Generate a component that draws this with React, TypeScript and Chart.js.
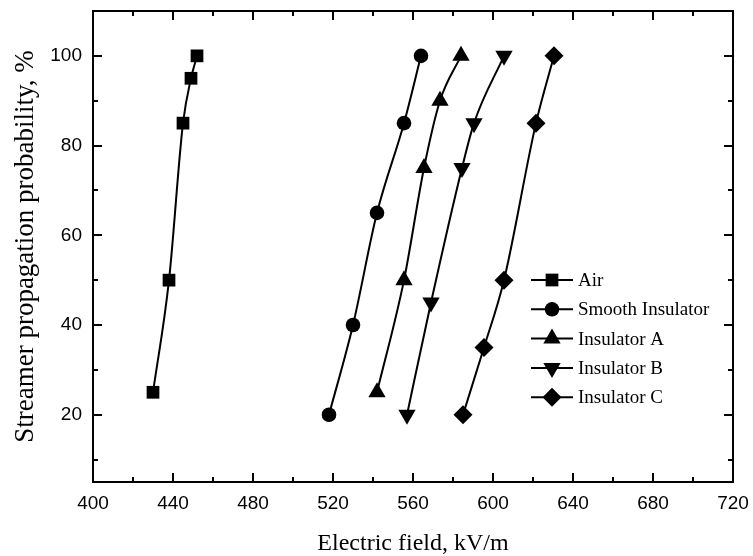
import { useEffect, useRef } from "react";
import { Chart, registerables } from "chart.js";
import { drawPoint } from "chart.js/helpers";

Chart.register(...registerables);

// Streamer propagation probability (%) versus applied electric field (kV/m)
const seriesNames = ["Air", "Smooth Insulator", "Insulator A", "Insulator B", "Insulator C"];

const airField = [430, 438, 445, 449, 452];
const airProb = [25, 50, 85, 95, 100];

const smoothField = [518, 530, 542, 555.5, 564];
const smoothProb = [20, 40, 65, 85, 100];

const insAField = [542, 555.5, 565.5, 573.5, 584];
const insAProb = [25, 50, 75, 90, 100];

const insBField = [557, 569, 584.5, 590.5, 605.5];
const insBProb = [20, 45, 75, 85, 100];

const insCField = [585, 595.5, 605.5, 621.5, 630.5];
const insCProb = [20, 35, 50, 85, 100];

const xMajorTicks = [400, 440, 480, 520, 560, 600, 640, 680, 720];
const xMinorTicks = [420, 460, 500, 540, 580, 620, 660, 700];
const yMajorTicks = [20, 40, 60, 80, 100];
const yMinorTicks = [10, 30, 50, 70, 90];

const fieldSeries = [airField, smoothField, insAField, insBField, insCField];
const probSeries = [airProb, smoothProb, insAProb, insBProb, insCProb];

// marker shape for each curve
const markers = [
  { pointStyle: "rect", radius: 9, rotation: 0 },
  { pointStyle: "circle", radius: 7.3, rotation: 0 },
  { pointStyle: "triangle", radius: 10, rotation: 0 },
  { pointStyle: "triangle", radius: 10, rotation: 180 },
  { pointStyle: "rectRot", radius: 9.5, rotation: 0 },
];

const SERIF = "'Liberation Serif', 'Times New Roman', serif";
const SANS = "'Liberation Sans', Arial, sans-serif";

// Box frame, inward tick marks and the in-plot legend
const framePlugin = {
  id: "frameAndLegend",
  afterDatasetsDraw(chart: any) {
    const { ctx, chartArea: a, scales } = chart;
    const xs = scales.x;
    const ys = scales.y;
    ctx.save();
    ctx.strokeStyle = "#000";
    ctx.lineWidth = 2;
    ctx.lineCap = "butt";

    const tick = (len: number, xv: number[], yv: number[]) => {
      ctx.beginPath();
      for (const v of xv) {
        const px = Math.round(xs.getPixelForValue(v));
        ctx.moveTo(px, a.bottom);
        ctx.lineTo(px, a.bottom - len);
        ctx.moveTo(px, a.top);
        ctx.lineTo(px, a.top + len);
      }
      for (const v of yv) {
        const py = Math.round(ys.getPixelForValue(v));
        ctx.moveTo(a.left, py);
        ctx.lineTo(a.left + len, py);
        ctx.moveTo(a.right, py);
        ctx.lineTo(a.right - len, py);
      }
      ctx.stroke();
    };
    tick(9, xMajorTicks, yMajorTicks);
    tick(5, xMinorTicks, yMinorTicks);

    ctx.strokeRect(a.left, a.top, a.right - a.left, a.bottom - a.top);

    // legend
    const lx = a.left + 438;
    const ly = a.top + 269;
    const rowH = 29.3;
    ctx.font = `19px ${SERIF}`;
    ctx.textBaseline = "middle";
    ctx.textAlign = "left";
    chart.data.datasets.forEach((ds: any, i: number) => {
      const y = ly + i * rowH;
      ctx.strokeStyle = "#000";
      ctx.lineWidth = 2;
      ctx.beginPath();
      ctx.moveTo(lx, y);
      ctx.lineTo(lx + 42, y);
      ctx.stroke();
      ctx.fillStyle = "#000";
      drawPoint(ctx, { ...markers[i], borderWidth: 0 } as any, lx + 21, y);
      ctx.fillStyle = "#000";
      ctx.fillText(ds.label, lx + 47, y + 1);
    });
    ctx.restore();
  },
};

export default function App() {
  const canvasRef = useRef<HTMLCanvasElement | null>(null);

  useEffect(() => {
    if (!canvasRef.current) return;
    const datasets = seriesNames.map((name, i) => ({
      label: name,
      data: fieldSeries[i].map((x, j) => ({ x, y: probSeries[i][j] })),
      borderColor: "#000",
      backgroundColor: "#000",
      borderWidth: 2,
      pointStyle: markers[i].pointStyle,
      pointRadius: markers[i].radius,
      pointRotation: markers[i].rotation,
      pointBorderWidth: 0,
      pointBackgroundColor: "#000",
      cubicInterpolationMode: "monotone" as const,
      clip: false as const,
    }));

    const chart = new Chart(canvasRef.current, {
      type: "line",
      data: { datasets },
      plugins: [framePlugin],
      options: {
        responsive: false,
        animation: false,
        layout: { padding: { top: 11, right: 20, left: 0, bottom: 0 } },
        plugins: {
          legend: { display: false },
          tooltip: { enabled: false },
        },
        scales: {
          x: {
            type: "linear",
            min: 400,
            max: 720,
            afterFit: (s: any) => {
              s.height = 74;
              s.paddingLeft = 0;
              s.paddingRight = 0;
            },
            afterBuildTicks: (s: any) => {
              s.ticks = xMajorTicks.map((v) => ({ value: v }));
            },
            grid: { display: false, drawTicks: false },
            border: { display: false },
            ticks: {
              color: "#000",
              padding: 10,
              maxRotation: 0,
              font: { family: SANS, size: 19 },
            },
            title: {
              display: true,
              text: "Electric field, kV/m",
              color: "#000",
              font: { family: SERIF, size: 24, lineHeight: 1 },
              padding: { top: 0, bottom: 0 },
            },
          },
          y: {
            type: "linear",
            min: 5,
            max: 110,
            afterFit: (s: any) => {
              s.width = 93;
              s.paddingTop = 0;
              s.paddingBottom = 0;
            },
            afterBuildTicks: (s: any) => {
              s.ticks = yMajorTicks.map((v) => ({ value: v }));
            },
            grid: { display: false, drawTicks: false },
            border: { display: false },
            ticks: {
              color: "#000",
              padding: 11,
              font: { family: SANS, size: 19 },
            },
            title: {
              display: true,
              text: "Streamer propagation probability, %",
              color: "#000",
              font: { family: SERIF, size: 27, lineHeight: 1 },
              padding: { top: 12, bottom: 0 },
            },
          },
        },
      },
    });
    return () => chart.destroy();
  }, []);

  return (
    <div style={{ position: "absolute", left: 0, top: 0, width: 753, height: 556, background: "#fff" }}>
      <canvas ref={canvasRef} width={753} height={556} />
    </div>
  );
}
